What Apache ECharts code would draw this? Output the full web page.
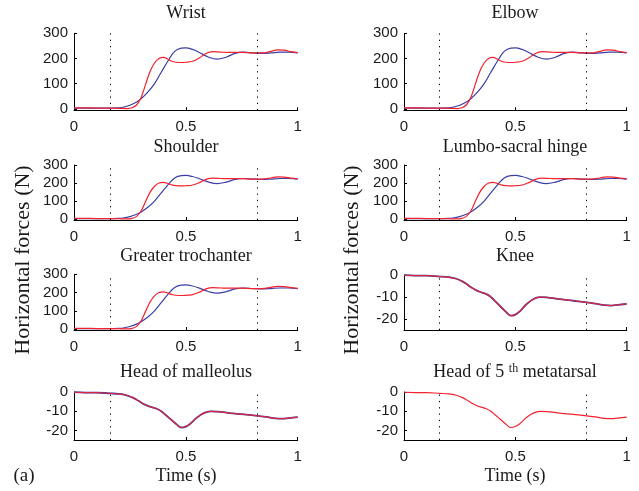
<!DOCTYPE html>
<html>
<head>
<meta charset="utf-8">
<script src="https://cdn.jsdelivr.net/npm/echarts@6/dist/echarts.min.js"></script>
<style>
html,body{margin:0;padding:0;background:#fff;}
#chart{width:639px;height:491px;}
</style>
</head>
<body>
<div id="chart"></div>
<script>
// ---- data ----
var panelTitles = ['Wrist', 'Elbow', 'Shoulder', 'Lumbo-sacral hinge', 'Greater trochanter', 'Knee', 'Head of malleolus', 'Head of 5 {s|th} metatarsal'];
var xTickLabels = [0, 0.5, 1];
var yTicksTop = [0, 100, 200, 300];
var yTicksBottom = [-20, -10, 0];
var eventTimes = [0.16, 0.82];

var topBlueT = [0, 0.05, 0.10, 0.15, 0.20, 0.22, 0.25, 0.28, 0.30, 0.33, 0.36, 0.39, 0.42, 0.45, 0.48, 0.50, 0.53, 0.56, 0.60, 0.64, 0.68, 0.72, 0.76, 0.80, 0.84, 0.88, 0.92, 0.96, 1.00];
var topBlueV = [3, 3, 3, 3, 4, 6, 14, 27, 40, 66, 100, 145, 190, 228, 241, 242, 236, 224, 206, 197, 205, 220, 225, 222, 220, 222, 225, 225, 222];

var topRedT = [0, 0.05, 0.10, 0.15, 0.20, 0.24, 0.26, 0.28, 0.30, 0.32, 0.34, 0.36, 0.38, 0.40, 0.42, 0.44, 0.47, 0.50, 0.53, 0.56, 0.59, 0.62, 0.66, 0.70, 0.75, 0.80, 0.84, 0.88, 0.91, 0.94, 0.97, 1.00];
var topRedV = [4, 4, 3, 3, 2, 1, 4, 15, 45, 97, 148, 182, 200, 204, 197, 188, 184, 185, 189, 202, 220, 227, 225, 224, 224, 222, 222, 228, 234, 233, 227, 223];

var bottomT = [0, 0.05, 0.10, 0.16, 0.20, 0.235, 0.26, 0.28, 0.30, 0.325, 0.35, 0.37, 0.39, 0.41, 0.44, 0.46, 0.48, 0.50, 0.52, 0.55, 0.58, 0.61, 0.64, 0.70, 0.76, 0.82, 0.86, 0.90, 0.93, 0.96, 1.00];
var bottomV = [-0.1, -0.3, -0.3, -0.7, -1.0, -1.7, -2.8, -4.0, -5.5, -7.0, -8.0, -8.7, -10.0, -12.0, -15.0, -17.0, -18.5, -18.0, -16.5, -13.3, -11.0, -10.1, -10.2, -11.0, -11.7, -12.4, -13.0, -13.7, -13.9, -13.6, -13.1];

function pairs(t, v) { return t.map(function (x, i) { return [x, v[i]]; }); }

// ---- layout ----
var colLeft = [74, 404];
var colWidth = [223.7, 222.7];
var colCenter = [186, 515];
var panels = [
  {col: 0, top: 33.3, h: 77,   min: -6,  max: 300, kind: 'top'},
  {col: 1, top: 33.3, h: 77,   min: -6,  max: 300, kind: 'top'},
  {col: 0, top: 165,  h: 55,   min: -5,  max: 300, kind: 'top'},
  {col: 1, top: 165,  h: 55,   min: -5,  max: 300, kind: 'top'},
  {col: 0, top: 274.3,h: 55.7, min: -5,  max: 300, kind: 'top'},
  {col: 1, top: 275,  h: 55,   min: -25, max: 0,   kind: 'both'},
  {col: 0, top: 392,  h: 48,   min: -25, max: 0,   kind: 'both'},
  {col: 1, top: 392,  h: 48,   min: -25, max: 0,   kind: 'red'}
];
var titleY = [13, 13, 147, 147, 256.5, 256.5, 372, 372];

var BLUE = '#3a3ea6', RED = '#f2222e';
var tickFont = {fontFamily: 'Liberation Sans', fontSize: 15, color: '#1a1a1a'};

var grids = [], xAxes = [], yAxes = [], series = [], graphics = [];
panels.forEach(function (p, i) {
  grids.push({left: colLeft[p.col], width: colWidth[p.col], top: p.top, height: p.h, containLabel: false});
  xAxes.push({
    type: 'value', gridIndex: i, min: 0, max: 1, interval: 0.5,
    axisLine: {show: true, onZero: false, lineStyle: {color: '#000', width: 1}},
    axisTick: {show: true, inside: true, length: 3, lineStyle: {color: '#000'}},
    axisLabel: Object.assign({margin: 9, customValues: xTickLabels}, tickFont),
    splitLine: {show: false}
  });
  var yt = p.kind === 'top' ? yTicksTop : yTicksBottom;
  yAxes.push({
    type: 'value', gridIndex: i, min: p.min, max: p.max,
    axisLine: {show: true, onZero: false, lineStyle: {color: '#000', width: 1}},
    axisTick: {show: true, inside: true, length: 3, lineStyle: {color: '#000'}, customValues: yt},
    axisLabel: Object.assign({margin: 6, customValues: yt}, tickFont),
    splitLine: {show: false}
  });
  var mark = {
    silent: true, symbol: ['none', 'none'], label: {show: false},
    lineStyle: {color: '#000', type: [1.3, 5], width: 1},
    data: eventTimes.map(function (t) { return {xAxis: t}; }),
    animation: false
  };
  if (p.kind === 'top') {
    series.push({type: 'line', xAxisIndex: i, yAxisIndex: i, data: pairs(topBlueT, topBlueV), smooth: 0.4, showSymbol: false, lineStyle: {color: BLUE, width: 1.2}, markLine: mark});
    series.push({type: 'line', xAxisIndex: i, yAxisIndex: i, data: pairs(topRedT, topRedV), smooth: 0.4, showSymbol: false, lineStyle: {color: RED, width: 1.2}});
  } else if (p.kind === 'both') {
    series.push({type: 'line', xAxisIndex: i, yAxisIndex: i, data: pairs(bottomT, bottomV), smooth: 0.4, showSymbol: false, lineStyle: {color: BLUE, width: 1.8}, markLine: mark});
    series.push({type: 'line', xAxisIndex: i, yAxisIndex: i, data: pairs(bottomT, bottomV), smooth: 0.4, showSymbol: false, lineStyle: {color: RED, width: 1.2, opacity: 0.85}});
  } else {
    series.push({type: 'line', xAxisIndex: i, yAxisIndex: i, data: pairs(bottomT, bottomV), smooth: 0.4, showSymbol: false, lineStyle: {color: RED, width: 1.2}, markLine: mark});
  }
  graphics.push({
    type: 'text', x: colCenter[p.col], y: titleY[i],
    style: {
      text: panelTitles[i], textAlign: 'center', textVerticalAlign: 'middle',
      fontFamily: 'Liberation Serif', fontSize: 18, fill: '#1a1a1a',
      rich: {s: {fontFamily: 'Liberation Serif', fontSize: 12, verticalAlign: 'top', fill: '#1a1a1a'}}
    }
  });
});

// axis titles
[23, 352].forEach(function (x) {
  graphics.push({type: 'text', x: x, y: 260, rotation: Math.PI / 2,
    style: {text: 'Horizontal forces (N)', textAlign: 'center', textVerticalAlign: 'middle', fontFamily: 'Liberation Serif', fontSize: 22, fill: '#1a1a1a'}});
});
colCenter.forEach(function (x) {
  graphics.push({type: 'text', x: x, y: 476,
    style: {text: 'Time (s)', textAlign: 'center', textVerticalAlign: 'middle', fontFamily: 'Liberation Serif', fontSize: 18, fill: '#1a1a1a'}});
});
graphics.push({type: 'text', x: 24, y: 476,
  style: {text: '(a)', textAlign: 'center', textVerticalAlign: 'middle', fontFamily: 'Liberation Serif', fontSize: 19, fill: '#1a1a1a'}});

var chart = echarts.init(document.getElementById('chart'), null, {renderer: 'canvas'});
chart.setOption({
  animation: false,
  backgroundColor: '#fff',
  grid: grids, xAxis: xAxes, yAxis: yAxes, series: series, graphic: graphics
});
</script>
</body>
</html>
